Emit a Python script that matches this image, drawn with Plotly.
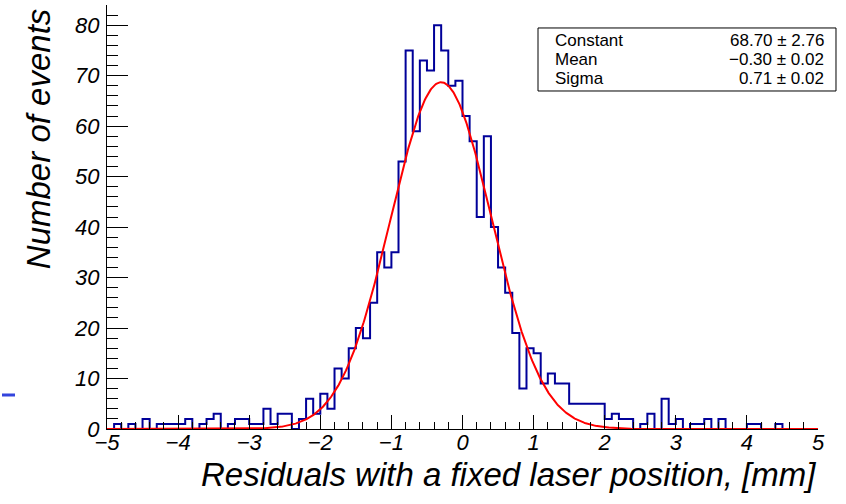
import numpy as np
import plotly.graph_objects as go

# Histogram binning: 100 bins from -5 to 5 mm
x_min, x_max, n_bins = -5.0, 5.0, 100
bin_edges = list(np.round(np.linspace(x_min, x_max, n_bins + 1), 2))

# Entries per bin
counts = [
    0, 1, 0, 1, 0, 2, 0, 1, 1, 1,
    1, 2, 0, 1, 2, 3, 0, 1, 2, 2,
    1, 1, 4, 1, 3, 3, 0, 2, 6, 3,
    7, 4, 12, 10, 16, 20, 18, 25, 35, 32,
    35, 53, 75, 59, 73, 71, 80, 75, 68, 69,
    62, 57, 42, 58, 40, 32, 27, 19, 8, 16,
    15, 9, 11, 9, 9, 5, 5, 5, 5, 5,
    2, 3, 2, 2, 0, 1, 3, 0, 6, 1,
    2, 0, 1, 1, 2, 0, 2, 0, 0, 0,
    1, 1, 0, 0, 1, 0, 0, 0, 0, 0,
]

# Gaussian fit parameters
fit_names = ["Constant", "Mean", "Sigma"]
fit_values = [68.70, -0.30, 0.71]
fit_errors = [2.76, 0.02, 0.02]

x_ticks = list(range(-5, 6))
y_ticks = list(range(0, 81, 10))

const, mean, sigma = fit_values

# Step outline of the histogram
step_x = [x_min] + bin_edges[:-1] + [x_max, x_max]
step_y = [0] + counts + [counts[-1], 0]

fx = np.linspace(x_min, x_max, 1001)
fy = const * np.exp(-0.5 * ((fx - mean) / sigma) ** 2)

fig = go.Figure()
fig.add_trace(go.Scatter(
    x=step_x, y=step_y, mode="lines", line_shape="hv",
    line=dict(color="#000099", width=2), hoverinfo="skip",
))
fig.add_trace(go.Scatter(
    x=fx, y=fy, mode="lines",
    line=dict(color="#ff0000", width=2), hoverinfo="skip",
))

tick_font = dict(family="Liberation Sans", size=22, color="black", style="italic")

fig.update_xaxes(
    range=[x_min, x_max], showgrid=False, zeroline=False,
    showline=True, linecolor="black", linewidth=1,
    tickmode="array", tickvals=x_ticks,
    ticktext=[("\u2212" + str(-t)) if t < 0 else str(t) for t in x_ticks],
    ticks="inside", ticklen=14, tickwidth=1, tickcolor="black",
    minor=dict(dtick=0.2, ticks="inside", ticklen=7, tickwidth=1, tickcolor="black"),
    tickfont=tick_font, ticklabelstandoff=-6,
)
fig.update_yaxes(
    range=[0, 84], showgrid=False, zeroline=False,
    showline=True, linecolor="black", linewidth=1,
    tickmode="array", tickvals=y_ticks,
    ticks="inside", ticklen=21, tickwidth=1, tickcolor="black",
    minor=dict(dtick=2, ticks="inside", ticklen=11, tickwidth=1, tickcolor="black"),
    tickfont=tick_font, ticklabelstandoff=2,
)

title_font = dict(family="Liberation Sans", size=33, color="black", style="italic")
annotations = [
    dict(text="Residuals with a fixed laser position, [mm]", xref="paper", yref="paper",
         x=1.0, y=-0.108, xanchor="right", yanchor="middle", showarrow=False, font=title_font),
    dict(text="Number of events", xref="paper", yref="paper", textangle=-90,
         x=-0.097, y=0.995, xanchor="center", yanchor="top", showarrow=False, font=title_font),
]

# Fit statistics box
box_font = dict(family="Liberation Sans", size=17, color="black")
row_y = [0.9151, 0.8703, 0.8255]


def fmt(v):
    s = f"{abs(v):.2f}"
    return ("\u2212" + s) if v < 0 else s


for name, val, err, ry in zip(fit_names, fit_values, fit_errors, row_y):
    annotations.append(dict(text=name, xref="paper", yref="paper", x=0.6273, y=ry,
                            xanchor="left", yanchor="middle", showarrow=False, font=box_font))
    annotations.append(dict(text=f"{fmt(val)} \u00b1 {err:.2f}", xref="paper", yref="paper",
                            x=1.0113, y=ry, xanchor="right", yanchor="middle",
                            showarrow=False, font=box_font))

shapes = [
    dict(type="rect", xref="paper", yref="paper", x0=0.6062, x1=1.0253, y0=0.7972, y1=0.9458,
         line=dict(color="black", width=1), fillcolor="white", layer="above"),
    dict(type="line", xref="paper", yref="paper", x0=-0.1477, x1=-0.1294, y0=0.0802, y1=0.0802,
         line=dict(color="#3344dd", width=3)),
]

fig.update_layout(
    width=846, height=504,
    margin=dict(l=107, r=28, t=5, b=75),
    paper_bgcolor="white", plot_bgcolor="white",
    showlegend=False,
    annotations=annotations, shapes=shapes,
)

fig.write_html("out.html")
